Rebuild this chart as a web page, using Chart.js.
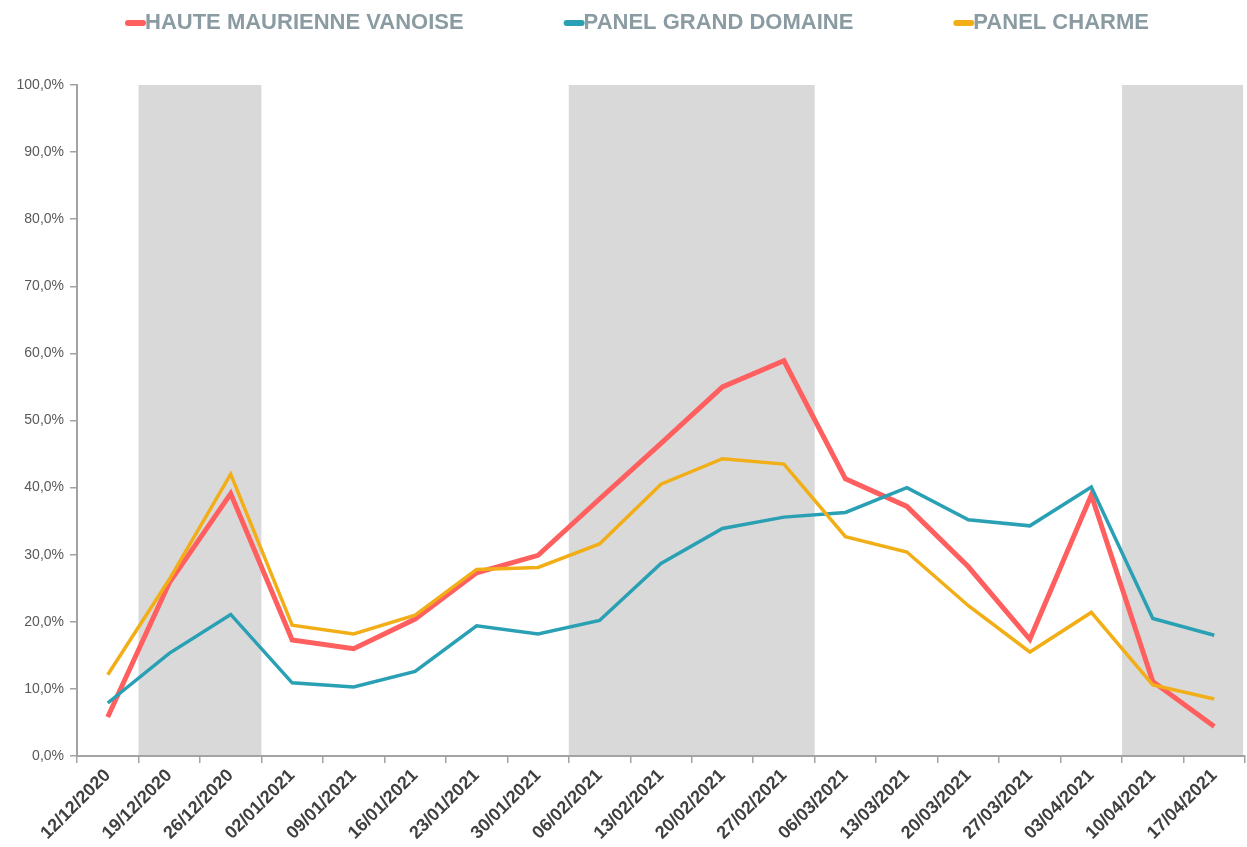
<!DOCTYPE html>
<html>
<head>
<meta charset="utf-8">
<script src="https://cdn.jsdelivr.net/npm/chart.js@4"></script>
<style>
  html, body { margin: 0; padding: 0; background: #fff; }
  #wrap { width: 1247px; height: 847px; position: relative; }
</style>
</head>
<body>
<div id="wrap"><canvas id="chart"></canvas></div>
<script>
// ---- Data ----
const weeks = ['12/12/2020', '19/12/2020', '26/12/2020', '02/01/2021', '09/01/2021', '16/01/2021',
  '23/01/2021', '30/01/2021', '06/02/2021', '13/02/2021', '20/02/2021', '27/02/2021', '06/03/2021',
  '13/03/2021', '20/03/2021', '27/03/2021', '03/04/2021', '10/04/2021', '17/04/2021'];

const seriesNames = ['HAUTE MAURIENNE VANOISE', 'PANEL GRAND DOMAINE', 'PANEL CHARME'];

const hauteMaurienne = [5.8, 25.8, 39.1, 17.3, 16.0, 20.4, 27.3, 29.9, 38.3, 46.6, 55.0, 58.9, 41.3, 37.2, 28.2, 17.4, 38.9, 11.1, 4.4];
const panelGrandDomaine = [7.9, 15.3, 21.1, 10.9, 10.3, 12.6, 19.4, 18.2, 20.2, 28.7, 33.9, 35.6, 36.3, 40.0, 35.2, 34.3, 40.1, 20.5, 18.0];
const panelCharme = [12.1, 26.3, 42.0, 19.5, 18.2, 21.0, 27.8, 28.1, 31.6, 40.5, 44.3, 43.5, 32.7, 30.4, 22.4, 15.5, 21.4, 10.6, 8.5];

// shaded holiday periods, as [first week index, last week index]
const holidayBands = [[1, 2], [8, 11], [17, 18]];

const FONT = '"Liberation Sans", Arial, sans-serif';
const AXIS_GREY = '#A3A3A3';

// ---- Shaded bands behind the lines ----
const bandsPlugin = {
  id: 'bands',
  beforeDraw(chart) {
    const { ctx, chartArea, scales: { x } } = chart;
    const half = (x.getPixelForValue(1) - x.getPixelForValue(0)) / 2;
    ctx.save();
    ctx.fillStyle = '#D9D9D9';
    holidayBands.forEach(([a, b]) => {
      const x0 = x.getPixelForValue(a) - half;
      const x1 = Math.min(x.getPixelForValue(b) + half, chartArea.right - 2);
      ctx.fillRect(x0, chartArea.top, x1 - x0, chartArea.bottom - chartArea.top);
    });
    ctx.restore();
  }
};

// ---- Legend drawn by hand (wide gaps, marker glued to text) ----
const legendPlugin = {
  id: 'topLegend',
  afterDraw(chart) {
    const { ctx } = chart;
    ctx.save();
    ctx.font = 'bold 22px ' + FONT;
    ctx.textBaseline = 'middle';
    let cx = 125;
    const cy = 23;
    chart.data.datasets.forEach(ds => {
      ctx.strokeStyle = ds.borderColor;
      ctx.lineWidth = 6;
      ctx.lineCap = 'round';
      ctx.beginPath();
      ctx.moveTo(cx + 3, cy);
      ctx.lineTo(cx + 18, cy);
      ctx.stroke();
      ctx.fillStyle = '#8A9BA2';
      ctx.fillText(ds.label, cx + 20, cy);
      cx += 20 + ctx.measureText(ds.label).width + 100;
    });
    ctx.restore();
  }
};

const pct = v => v.toFixed(1).replace('.', ',') + '%';

new Chart(document.getElementById('chart'), {
  type: 'line',
  data: {
    labels: weeks,
    datasets: [
      { label: seriesNames[0], data: hauteMaurienne, borderColor: '#FF5F5F', borderWidth: 5, order: 3 },
      { label: seriesNames[1], data: panelGrandDomaine, borderColor: '#2AA0B4', borderWidth: 3.5, order: 2 },
      { label: seriesNames[2], data: panelCharme, borderColor: '#F2AE17', borderWidth: 3.5, order: 1 }
    ]
  },
  options: {
    responsive: true,
    maintainAspectRatio: false,
    animation: false,
    layout: { padding: { top: 85, left: 0, right: 2, bottom: 0 } },
    elements: {
      point: { radius: 0, hoverRadius: 0 },
      line: { tension: 0, fill: false, borderJoinStyle: 'miter', borderCapStyle: 'butt' }
    },
    plugins: {
      legend: { display: false },
      tooltip: { enabled: false }
    },
    scales: {
      x: {
        offset: true,
        afterFit: s => { s.height = 91; },
        border: { display: true, color: AXIS_GREY, width: 2 },
        grid: { display: true, offset: true, drawOnChartArea: false, drawTicks: true, tickLength: 7, color: AXIS_GREY, lineWidth: 1.5 },
        ticks: {
          autoSkip: false, minRotation: 45, maxRotation: 45, padding: 2,
          color: '#404040', font: { family: FONT, size: 18, weight: 'bold' }
        }
      },
      y: {
        min: 0, max: 100,
        afterFit: s => { s.width = 77; },
        border: { display: true, color: AXIS_GREY, width: 2 },
        grid: { display: true, drawOnChartArea: false, drawTicks: true, tickLength: 7, color: AXIS_GREY, lineWidth: 1.5 },
        ticks: {
          stepSize: 10, padding: 6, callback: v => pct(v),
          color: '#595959', font: { family: FONT, size: 14 }
        }
      }
    }
  },
  plugins: [bandsPlugin, legendPlugin]
});
</script>
</body>
</html>
